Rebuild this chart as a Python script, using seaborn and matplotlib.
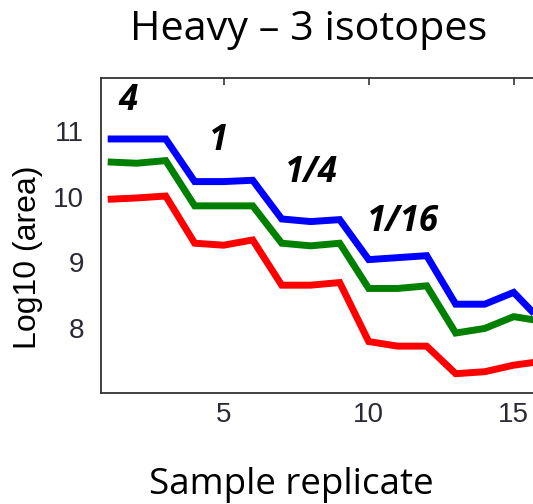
import matplotlib
matplotlib.use("Agg")
import matplotlib.pyplot as plt
import seaborn as sns
import pandas as pd
import numpy as np

# ---- data ----
replicates = list(range(1, 17))
blue_vals = [10.88, 10.88, 10.88, 10.23, 10.23, 10.25, 9.66, 9.62, 9.65, 9.04, 9.07, 9.10, 8.36, 8.36, 8.54, 8.08]
green_vals = [10.53, 10.51, 10.55, 9.86, 9.86, 9.86, 9.29, 9.25, 9.29, 8.60, 8.60, 8.64, 7.92, 7.99, 8.17, 8.10]
red_vals = [9.96, 9.98, 10.01, 9.29, 9.26, 9.34, 8.65, 8.65, 8.69, 7.79, 7.72, 7.72, 7.30, 7.33, 7.43, 7.49]
series_names = ["blue", "green", "red"]
series_colors = ["#0000ff", "#008000", "#ff0000"]
x_ticks = [5, 10, 15]
y_ticks = [8, 9, 10, 11]
dilution_labels = ["4", "1", "1/4", "1/16"]
dilution_x = [1.71, 4.81, 8.03, 11.19]
dilution_y = [11.46, 10.85, 10.36, 9.62]
title_text = "Heavy \u2013 3 isotopes"
xlabel_text = "Sample replicate"
ylabel_text = "Log10 (area)"

df = pd.DataFrame({
    "replicate": replicates * 3,
    "value": blue_vals + green_vals + red_vals,
    "series": sum([[n] * len(replicates) for n in series_names], []),
})

sns.set_style("white")
plt.rcParams["font.family"] = ["Liberation Sans", "DejaVu Sans"]

W, H = 533, 504
fig = plt.figure(figsize=(W / 100, H / 100), dpi=100)
left_px, right_px, top_px, bottom_px = 100.7, 560, 78, 392.7
ax = fig.add_axes([left_px / W, 1 - bottom_px / H, (right_px - left_px) / W, (bottom_px - top_px) / H])

sns.lineplot(data=df, x="replicate", y="value", hue="series", hue_order=series_names,
             palette=series_colors, linewidth=5, legend=False, ax=ax,
             solid_capstyle="butt", solid_joinstyle="miter")

px_per_unit = 29.0
xmin = 1 - (107.7 - left_px) / px_per_unit
xmax = 1 + (right_px - 107.7) / px_per_unit
ax.set_xlim(xmin, xmax)
ax.set_ylim(7.01, 11.81)
ax.set_xticks(x_ticks)
ax.set_yticks(y_ticks)
ax.set_xlabel("")
ax.set_ylabel("")

for s in ax.spines.values():
    s.set_color("#333333")
    s.set_linewidth(1.3)
ax.tick_params(axis="both", direction="in", length=5, width=1.2, color="#333333",
               labelsize=20, labelcolor="#2a2a35", top=True, right=False)
ax.tick_params(axis="y", pad=12)
ax.tick_params(axis="x", pad=7)

for lab, xx, yy in zip(dilution_labels, dilution_x, dilution_y):
    ax.text(xx, yy, lab, ha="center", va="center", fontsize=25, fontweight="bold",
            fontstyle="italic", family=["Open Sans", "DejaVu Sans"], color="black")

fig.text(309 / W, 1 - 30 / H, title_text, ha="center", va="center", fontsize=29.8,
         family=["Open Sans", "DejaVu Sans"], color="black")
fig.text(291 / W, 1 - 485 / H, xlabel_text, ha="center", va="center", fontsize=26.5,
         family=["Open Sans", "DejaVu Sans"], color="black")
fig.text(28 / W, 1 - 257 / H, ylabel_text, ha="center", va="center", rotation=90,
         fontsize=23, color="black")

fig.savefig("out.png", dpi=100)
